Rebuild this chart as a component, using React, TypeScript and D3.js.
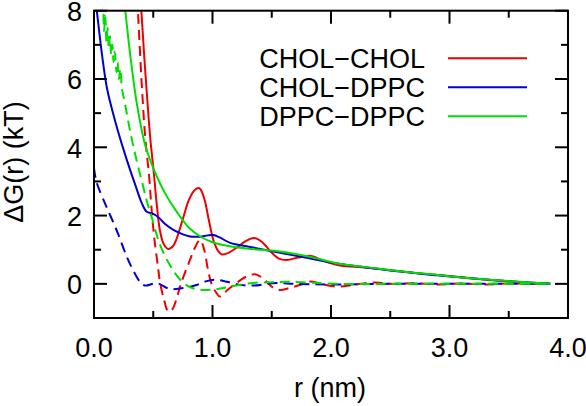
import React from "react";
import * as d3 from "d3";

type Pt = [number, number];

// r (nm), ΔG (kT)
const cholCholSolid: Pt[] = [
  [0.38, 9.1], [0.40, 7.96], [0.433, 6.21], [0.475, 4.26], [0.504, 3.28], [0.53, 2.31],
  [0.557, 1.55], [0.59, 1.15], [0.627, 1.02], [0.67, 1.12], [0.70, 1.35], [0.75, 1.9],
  [0.80, 2.45], [0.85, 2.75], [0.89, 2.8], [0.93, 2.5], [0.97, 1.85], [1.01, 1.25],
  [1.05, 0.95], [1.08, 0.86], [1.13, 0.9], [1.2, 1.05], [1.28, 1.25], [1.35, 1.34],
  [1.42, 1.22], [1.49, 0.95], [1.56, 0.74], [1.63, 0.7], [1.72, 0.77], [1.82, 0.82],
  [1.92, 0.7], [2.0, 0.6], [2.1, 0.52], [2.2, 0.5], [2.3, 0.47], [2.45, 0.42],
  [2.6, 0.36], [2.8, 0.29], [3.0, 0.23], [3.2, 0.16], [3.4, 0.1], [3.6, 0.05], [3.85, 0.0],
];

const cholCholDashed: Pt[] = [
  [0.372, 7.9], [0.405, 5.72], [0.433, 4.26], [0.467, 3.09], [0.483, 2.31], [0.51, 1.3],
  [0.54, 0.5], [0.557, 0.05], [0.59, -0.45], [0.627, -0.81], [0.66, -0.75], [0.70, -0.4],
  [0.726, -0.08], [0.77, 0.35], [0.81, 0.7], [0.85, 1.05], [0.895, 1.29], [0.93, 1.0],
  [0.96, 0.45], [0.99, 0.02], [1.03, -0.25], [1.063, -0.37], [1.12, -0.2], [1.2, 0.02],
  [1.28, 0.2], [1.36, 0.28], [1.44, 0.12], [1.5, -0.08], [1.57, -0.18], [1.65, -0.12],
  [1.75, -0.02], [1.82, 0.07], [1.92, 0.0], [2.0, -0.06], [2.08, -0.08], [2.2, -0.02],
  [2.37, 0.04], [2.5, 0.0], [2.7, 0.02], [2.9, -0.02], [3.1, 0.01], [3.3, -0.02],
  [3.5, 0.01], [3.7, 0.0], [3.85, 0.0],
];

const cholDppcSolid: Pt[] = [
  [0.0, 8.7], [0.025, 7.96], [0.068, 6.7], [0.11, 5.72], [0.18, 4.75], [0.264, 3.77],
  [0.349, 2.89], [0.405, 2.35], [0.445, 2.11], [0.5, 2.05], [0.55, 1.93], [0.6, 1.75],
  [0.67, 1.58], [0.75, 1.45], [0.81, 1.39], [0.895, 1.38], [0.96, 1.42], [1.007, 1.43],
  [1.06, 1.36], [1.15, 1.2], [1.32, 1.08], [1.51, 0.95], [1.74, 0.8], [2.08, 0.58],
  [2.3, 0.48], [2.58, 0.36], [2.9, 0.25], [3.15, 0.17], [3.5, 0.08], [3.85, 0.0],
];

const cholDppcDashed: Pt[] = [
  [0.0, 3.4], [0.02, 3.0], [0.1, 2.3], [0.163, 1.8], [0.205, 1.45], [0.276, 0.8],
  [0.33, 0.4], [0.39, 0.05], [0.43, -0.05], [0.53, 0.02], [0.64, -0.15], [0.75, -0.12],
  [0.85, -0.05], [0.95, 0.08], [1.03, 0.12], [1.12, 0.06], [1.23, -0.03], [1.35, -0.05],
  [1.51, 0.02], [1.7, 0.0], [2.0, -0.02], [2.5, 0.0], [3.0, 0.0], [3.5, 0.0], [3.85, 0.0],
];

const dppcDppcSolid: Pt[] = [
  [0.245, 8.6], [0.264, 8.0], [0.306, 6.7], [0.363, 5.25], [0.433, 4.05], [0.517, 3.25],
  [0.6, 2.65], [0.7, 2.1], [0.8, 1.65], [0.9, 1.38], [1.0, 1.22], [1.1, 1.13],
  [1.23, 1.06], [1.4, 1.0], [1.57, 0.95], [1.8, 0.81], [2.08, 0.58], [2.3, 0.49],
  [2.58, 0.37], [2.9, 0.26], [3.15, 0.17], [3.5, 0.08], [3.85, 0.0],
];

const dppcDppcDashed: Pt[] = [
  [0.08, 7.9], [0.085, 7.4], [0.095, 7.85], [0.105, 7.1], [0.115, 7.5], [0.125, 6.9],
  [0.135, 7.25], [0.145, 6.7], [0.155, 7.0], [0.165, 6.5], [0.175, 6.8], [0.19, 6.2],
  [0.2, 6.5], [0.21, 6.0], [0.222, 6.3], [0.236, 5.72], [0.264, 5.23], [0.306, 4.45],
  [0.349, 3.77], [0.405, 2.99], [0.447, 2.41], [0.487, 1.95], [0.557, 1.15], [0.64, 0.55],
  [0.72, 0.15], [0.8, -0.08], [0.895, -0.17], [1.0, -0.17], [1.09, -0.12], [1.2, -0.05],
  [1.32, 0.02], [1.5, 0.05], [1.65, 0.06], [1.85, 0.03], [2.08, 0.0], [2.5, 0.0],
  [3.0, 0.0], [3.5, 0.0], [3.85, 0.0],
];

const legendLabels = ["CHOL\u2212CHOL", "CHOL\u2212DPPC", "DPPC\u2212DPPC"];
const xMajorTicks = [0, 1, 2, 3, 4];
const xTickLabels = ["0.0", "1.0", "2.0", "3.0", "4.0"];
const xMinorTicks = [0.5, 1.5, 2.5, 3.5];
const yMajorTicks = [0, 2, 4, 6, 8];
const yTickLabels = ["0", "2", "4", "6", "8"];
const yMinorTicks = [1, 3, 5, 7];

const RED = "#ee0000";
const BLUE = "#0000d0";
const GREEN = "#00dd00";

export default function App() {
  const W = 586, H = 406;
  const L = 94, R = 568, T = 10.7, B = 318;
  const x = d3.scaleLinear().domain([0, 4]).range([L, R]);
  const y = d3.scaleLinear().domain([-1, 8]).range([B, T]);
  const line = d3
    .line<Pt>()
    .x((d) => x(d[0]))
    .y((d) => y(d[1]))
    .curve(d3.curveCatmullRom.alpha(0.5));

  const series = [
    { data: cholCholSolid, color: RED, dash: null },
    { data: cholCholDashed, color: RED, dash: "10,6" },
    { data: cholDppcSolid, color: BLUE, dash: null },
    { data: cholDppcDashed, color: BLUE, dash: "10,6" },
    { data: dppcDppcSolid, color: GREEN, dash: null },
    { data: dppcDppcDashed, color: GREEN, dash: "10,6" },
  ];
  const legendColors = [RED, BLUE, GREEN];
  const font = "'Liberation Sans', Arial, Helvetica, sans-serif";
  const fs = 27;
  const major = 13, minor = 7;

  return (
    <svg width={W} height={H} style={{ position: "absolute", left: 0, top: 0, background: "#fff" }}
      fontFamily={font}>
      <defs>
        <clipPath id="plotclip">
          <rect x={L} y={T} width={R - L} height={B - T} />
        </clipPath>
      </defs>
      <rect x={0} y={0} width={W} height={H} fill="#fff" />
      <g clipPath="url(#plotclip)" fill="none" strokeWidth={2} strokeLinejoin="round">
        {series.map((s, i) => (
          <path key={i} d={line(s.data) || ""} stroke={s.color}
            strokeDasharray={s.dash || undefined} />
        ))}
      </g>
      {/* ticks */}
      <g stroke="#000" strokeWidth={2}>
        {xMajorTicks.map((t) => (
          <g key={"xm" + t}>
            <line x1={x(t)} x2={x(t)} y1={B} y2={B - major} />
            <line x1={x(t)} x2={x(t)} y1={T} y2={T + major} />
          </g>
        ))}
        {xMinorTicks.map((t) => (
          <g key={"xn" + t}>
            <line x1={x(t)} x2={x(t)} y1={B} y2={B - minor} />
            <line x1={x(t)} x2={x(t)} y1={T} y2={T + minor} />
          </g>
        ))}
        {yMajorTicks.map((t) => (
          <g key={"ym" + t}>
            <line x1={L} x2={L + major} y1={y(t)} y2={y(t)} />
            <line x1={R} x2={R - major} y1={y(t)} y2={y(t)} />
          </g>
        ))}
        {yMinorTicks.map((t) => (
          <g key={"yn" + t}>
            <line x1={L} x2={L + minor} y1={y(t)} y2={y(t)} />
            <line x1={R} x2={R - minor} y1={y(t)} y2={y(t)} />
          </g>
        ))}
      </g>
      <rect x={L} y={T} width={R - L} height={B - T} fill="none" stroke="#000" strokeWidth={2} />
      {/* tick labels */}
      <g fontSize={fs} fill="#000">
        {xMajorTicks.map((t, i) => (
          <text key={"xl" + t} x={x(t)} y={357} textAnchor="middle">{xTickLabels[i]}</text>
        ))}
        {yMajorTicks.map((t, i) => (
          <text key={"yl" + t} x={82} y={y(t) + 10.3} textAnchor="end">{yTickLabels[i]}</text>
        ))}
        <text x={330} y={397} textAnchor="middle">r (nm)</text>
        <text transform={`translate(22.5,162) rotate(-90)`} textAnchor="middle">ΔG(r) (kT)</text>
      </g>
      {/* legend */}
      <g fontSize={fs}>
        {legendLabels.map((lab, i) => (
          <g key={lab}>
            <text x={425} y={67.7 + i * 29} textAnchor="end" fill="#000">{lab}</text>
            <line x1={448} x2={527} y1={58.3 + i * 29} y2={58.3 + i * 29}
              stroke={legendColors[i]} strokeWidth={2} />
          </g>
        ))}
      </g>
    </svg>
  );
}
